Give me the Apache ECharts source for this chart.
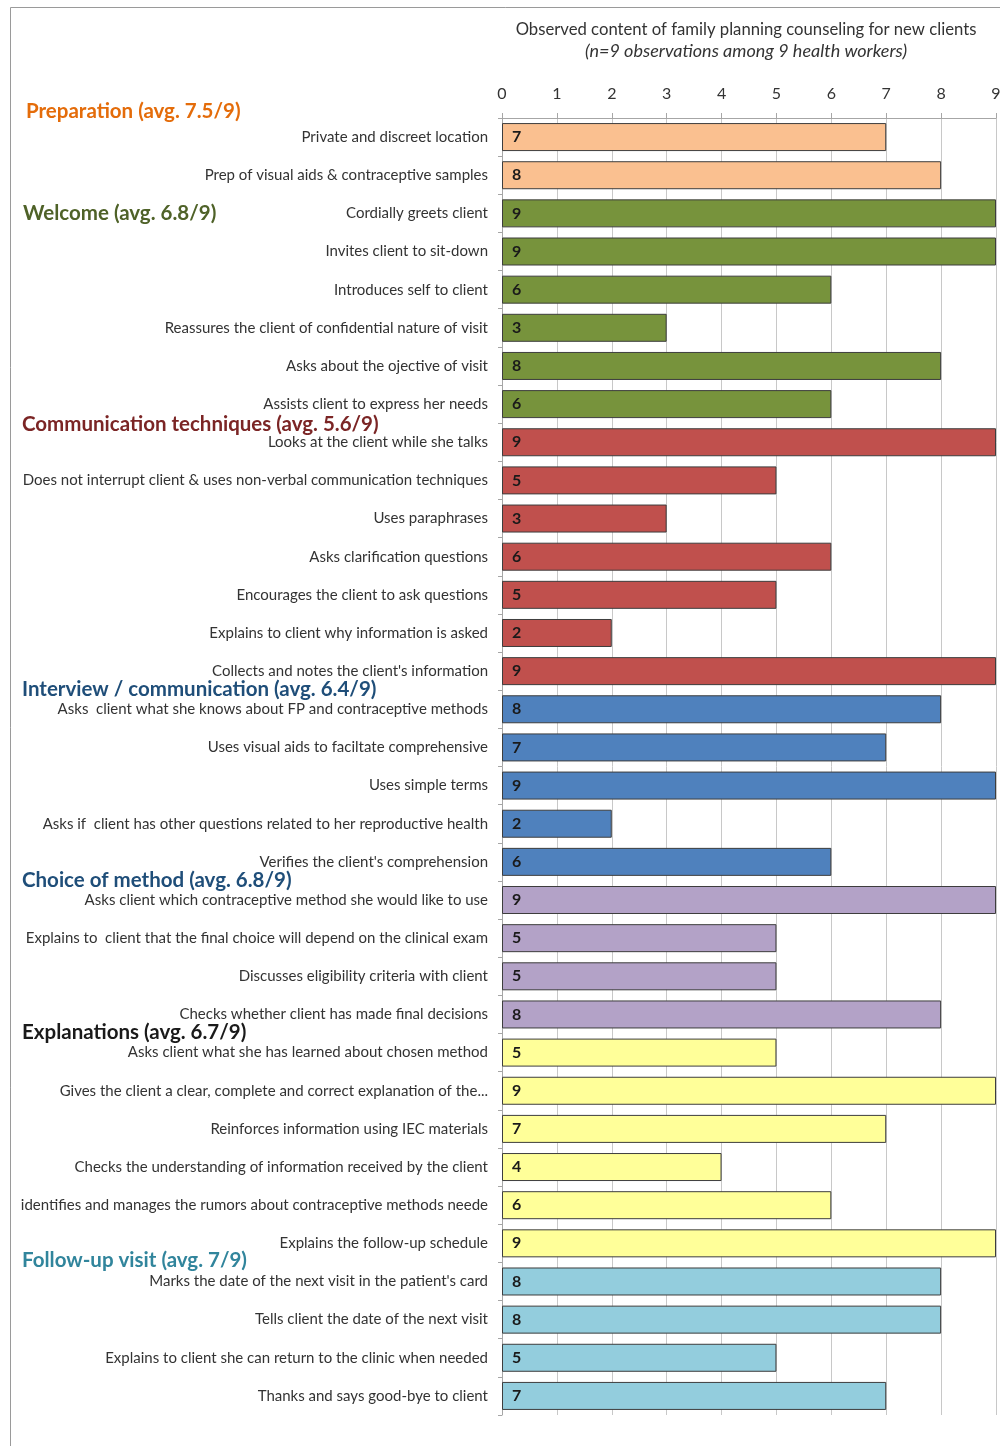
<!DOCTYPE html>
<html>
<head>
<meta charset="utf-8">
<script src="https://cdn.jsdelivr.net/npm/echarts@6/dist/echarts.min.js"></script>
<style>
  html, body { margin: 0; padding: 0; background: #fff; overflow: hidden; }
  #chart { width: 1000px; height: 1446px; }
</style>
</head>
<body>
<div id="chart"></div>
<script>
// Counseling steps, in display order (top to bottom)
const categories = [
  'Private and discreet location',
  'Prep of visual aids & contraceptive samples',
  'Cordially greets client',
  'Invites client to sit-down',
  'Introduces self to client',
  'Reassures the client of confidential nature of visit',
  'Asks about the ojective of visit',
  'Assists client to express her needs',
  'Looks at the client while she talks',
  'Does not interrupt client & uses non-verbal communication techniques',
  'Uses paraphrases',
  'Asks clarification questions',
  'Encourages the client to ask questions',
  'Explains to client why information is asked',
  "Collects and notes the client's information",
  'Asks  client what she knows about FP and contraceptive methods',
  'Uses visual aids to faciltate comprehensive',
  'Uses simple terms',
  'Asks if  client has other questions related to her reproductive health',
  "Verifies the client's comprehension",
  'Asks client which contraceptive method she would like to use',
  'Explains to  client that the final choice will depend on the clinical exam',
  'Discusses eligibility criteria with client',
  'Checks whether client has made final decisions',
  'Asks client what she has learned about chosen method',
  'Gives the client a clear, complete and correct explanation of the...',
  'Reinforces information using IEC materials',
  'Checks the understanding of information received by the client',
  'identifies and manages the rumors about contraceptive methods neede',
  'Explains the follow-up schedule',
  "Marks the date of the next visit in the patient's card",
  'Tells client the date of the next visit',
  'Explains to client she can return to the clinic when needed',
  'Thanks and says good-bye to client'
];

// Number of observations (out of 9) in which each step was seen
const values = [
  7, 8,
  9, 9, 6, 3, 8, 6,
  9, 5, 3, 6, 5, 2, 9,
  8, 7, 9, 2, 6,
  9, 5, 5, 8,
  5, 9, 7, 4, 6, 9,
  8, 8, 5, 7
];

// Section each step belongs to (index into sections)
const stepSection = [
  0, 0,
  1, 1, 1, 1, 1, 1,
  2, 2, 2, 2, 2, 2, 2,
  3, 3, 3, 3, 3,
  4, 4, 4, 4,
  5, 5, 5, 5, 5, 5,
  6, 6, 6, 6
];

const sections = [
  'Preparation',
  'Welcome',
  'Communication techniques',
  'Interview / communication',
  'Choice of method',
  'Explanations',
  'Follow-up visit'
];

const sectionAverages = ['7.5', '6.8', '5.6', '6.4', '6.8', '6.7', '7'];

const axisTicks = [0, 1, 2, 3, 4, 5, 6, 7, 8, 9];

// --- styling ---
const barColors = ['#FAC090', '#77933C', '#C0504D', '#4F81BD', '#B3A2C7', '#FFFF99', '#93CDDD'];
const headerColors = ['#E46C0A', '#4F6228', '#7B2525', '#1F4E79', '#1F4E79', '#1A1A1A', '#31859C'];
const FONT = 'Lato, "Liberation Sans", sans-serif';

const GRID = { left: 502, top: 118, right: 4, bottom: 31, outerBoundsMode: 'none' };
const CHART_H = 1446;
const rowStep = (CHART_H - GRID.top - GRID.bottom) / categories.length;
const rowY = r => GRID.top + (r + 0.5) * rowStep;

// Where each section heading sits, in row units
const headerRows = [-0.72, 1.95, 7.5, 14.44, 19.45, 23.43, 29.41];
const headerLeft = [26, 23, 22, 22, 22, 22, 22];

const chart = echarts.init(document.getElementById('chart'), null, { renderer: 'canvas' });

const graphics = [
  {
    type: 'rect',
    shape: { x: 10.5, y: 7.5, width: 1100, height: 1500 },
    style: { fill: 'none', stroke: '#9a9a9a', lineWidth: 1 },
    silent: true
  }
];
sections.forEach((name, i) => {
  graphics.push({
    type: 'text',
    left: headerLeft[i],
    top: rowY(headerRows[i]) - 9,
    style: {
      text: name + ' (avg. ' + sectionAverages[i] + '/9)',
      font: 'bold 20.5px ' + FONT,
      fill: headerColors[i]
    },
    z: 10
  });
});

chart.setOption({
  animation: false,
  backgroundColor: '#fff',
  title: {
    text: 'Observed content of family planning counseling for new clients',
    subtext: '(n=9 observations among 9 health workers)',
    left: 741,
    textAlign: 'center',
    top: 16,
    itemGap: 4,
    textStyle: { fontFamily: FONT, fontSize: 16.7, fontWeight: 'normal', color: '#333' },
    subtextStyle: { fontFamily: FONT, fontSize: 18, fontStyle: 'italic', color: '#333' }
  },
  grid: GRID,
  xAxis: {
    type: 'value',
    position: 'top',
    min: 0,
    max: 9,
    interval: 1,
    axisLine: { show: true, lineStyle: { color: '#a6a6a6' } },
    axisTick: { show: true, length: 5, lineStyle: { color: '#a6a6a6' } },
    splitLine: { show: true, lineStyle: { color: '#c8c8c8', width: 1 } },
    axisLabel: {
      fontFamily: FONT, fontSize: 16, color: '#333', margin: 16,
      formatter: v => String(axisTicks[v] ?? v)
    }
  },
  yAxis: {
    type: 'category',
    inverse: true,
    data: categories,
    axisLine: { show: true, lineStyle: { color: '#a6a6a6' } },
    axisTick: { show: true, length: 4, alignWithLabel: false, lineStyle: { color: '#a6a6a6' } },
    axisLabel: { fontFamily: FONT, fontSize: 15, color: '#333', margin: 14 }
  },
  series: [{
    type: 'bar',
    barWidth: 28,
    data: values.map((v, i) => ({
      value: v,
      itemStyle: { color: barColors[stepSection[i]] }
    })),
    itemStyle: { borderColor: '#3d3d3d', borderWidth: 1 },
    label: {
      show: true,
      position: 'insideLeft',
      distance: 10,
      fontFamily: FONT,
      fontSize: 16,
      fontWeight: 'bold',
      color: '#1a1a1a'
    }
  }],
  graphic: graphics
});
</script>
</body>
</html>
